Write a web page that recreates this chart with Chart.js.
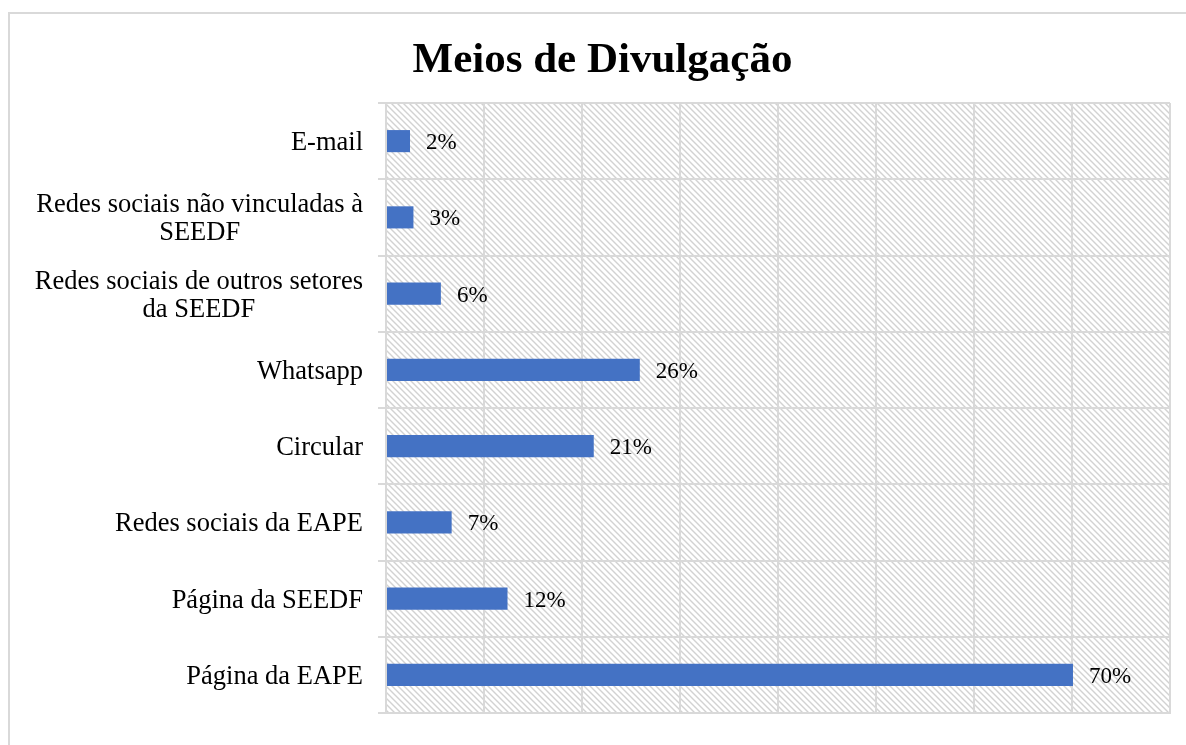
<!DOCTYPE html>
<html><head><meta charset="utf-8">
<script src="https://cdn.jsdelivr.net/npm/chart.js@4"></script>
<style>
html,body{margin:0;padding:0;background:#fff;overflow:hidden}
#wrap{position:relative;width:1186px;height:745px}
#frame{position:absolute;left:8px;top:12px;width:1200px;height:800px;border-left:2px solid #d9d9d9;border-top:2px solid #d9d9d9}
canvas{position:absolute;left:0;top:0}
</style></head><body>
<div id="wrap"><div id="frame"></div><canvas id="c" width="1186" height="745"></canvas></div>
<script>
const titleText = 'Meios de Divulgação';
const categories = [
  'E-mail',
  ['Redes sociais não vinculadas à', 'SEEDF'],
  ['Redes sociais de outros setores', 'da SEEDF'],
  'Whatsapp',
  'Circular',
  'Redes sociais da EAPE',
  'Página da SEEDF',
  'Página da EAPE'
];
const values = [2.45, 2.8, 5.6, 25.9, 21.2, 6.7, 12.4, 70.1];
const percentLabels = ['2%', '3%', '6%', '26%', '21%', '7%', '12%', '70%'];
const xTicks = [0, 10, 20, 30, 40, 50, 60, 70, 80];

const GRID = '#d9d9d9';
const SERIF = '"Liberation Serif", "Times New Roman", serif';

function makeHatch(ctx) {
  const t = document.createElement('canvas');
  t.width = 6; t.height = 6;
  const g = t.getContext('2d');
  g.fillStyle = '#fff'; g.fillRect(0, 0, 6, 6);
  g.strokeStyle = '#d2d2d2'; g.lineWidth = 1.4;
  g.beginPath();
  g.moveTo(-1, -1); g.lineTo(7, 7);
  g.moveTo(-4, 2); g.lineTo(4, 10);
  g.moveTo(2, -4); g.lineTo(10, 4);
  g.stroke();
  return ctx.createPattern(t, 'repeat');
}

const hatchPlugin = {
  id: 'hatch',
  beforeDraw(chart) {
    const a = chart.chartArea, ctx = chart.ctx;
    ctx.save();
    ctx.fillStyle = makeHatch(ctx);
    ctx.fillRect(a.left, a.top, a.right - a.left, a.bottom - a.top);
    ctx.restore();
  }
};

const yLabelPlugin = {
  id: 'yLabels',
  afterDraw(chart) {
    const ctx = chart.ctx, y = chart.scales.y;
    ctx.save();
    ctx.font = '26.5px ' + SERIF;
    ctx.fillStyle = '#000';
    ctx.textBaseline = 'middle';
    ctx.textAlign = 'center';
    const lh = 28;
    const right = y.right - 23;
    categories.forEach((lab, i) => {
      const lines = Array.isArray(lab) ? lab : [lab];
      const w = Math.max(...lines.map(l => ctx.measureText(l).width));
      const cy = y.getPixelForTick(i) + 2;
      const cx = right - w / 2;
      lines.forEach((l, j) => ctx.fillText(l, cx, cy + (j - (lines.length - 1) / 2) * lh));
    });
    ctx.restore();
  }
};

const valueLabelPlugin = {
  id: 'valueLabels',
  afterDatasetsDraw(chart) {
    const ctx = chart.ctx;
    const meta = chart.getDatasetMeta(0);
    ctx.save();
    ctx.font = '23px ' + SERIF;
    ctx.fillStyle = '#000';
    ctx.textBaseline = 'middle';
    ctx.textAlign = 'left';
    meta.data.forEach((bar, i) => ctx.fillText(percentLabels[i], bar.x + 16, bar.y + 2));
    ctx.restore();
  }
};

new Chart(document.getElementById('c'), {
  type: 'bar',
  data: {
    labels: categories,
    datasets: [{
      data: values,
      backgroundColor: '#4472C4',
      borderWidth: 0,
      barPercentage: 0.29,
      categoryPercentage: 1
    }]
  },
  options: {
    indexAxis: 'y',
    responsive: false,
    devicePixelRatio: 1,
    animation: false,
    layout: { padding: { left: 35, right: 16, top: 0, bottom: 32 } },
    plugins: {
      legend: { display: false },
      tooltip: { enabled: false },
      title: {
        display: true,
        text: titleText,
        color: '#000',
        font: { family: SERIF, size: 43, weight: 'bold', lineHeight: 1.2 },
        padding: { top: 35, bottom: 16.4 }
      }
    },
    scales: {
      x: {
        type: 'linear',
        min: xTicks[0],
        max: xTicks[xTicks.length - 1],
        afterBuildTicks(s) { s.ticks = xTicks.map(v => ({ value: v })); },
        ticks: { display: false },
        grid: { color: GRID, lineWidth: 2, drawTicks: false },
        border: { display: true, color: GRID, width: 2 },
        afterFit(s) { s.height = 0; }
      },
      y: {
        type: 'category',
        ticks: { display: false },
        grid: { color: GRID, lineWidth: 2, tickLength: 8, offset: true },
        border: { display: true, color: GRID, width: 2 },
        afterFit(s) { s.width = 351; }
      }
    }
  },
  plugins: [hatchPlugin, yLabelPlugin, valueLabelPlugin]
});
</script>
</body></html>
